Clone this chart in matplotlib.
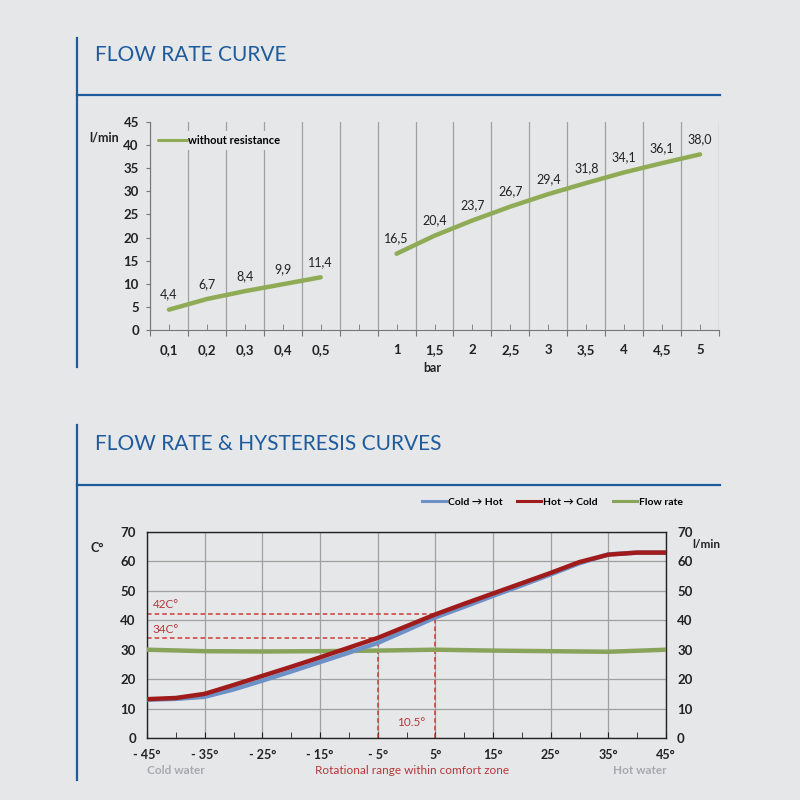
import numpy as np
import matplotlib
matplotlib.use("Agg")
import matplotlib.pyplot as plt
from matplotlib.lines import Line2D

# ---- data: flow rate curve ----
pressure_labels = ["0,1", "0,2", "0,3", "0,4", "0,5", "", "1", "1,5", "2", "2,5",
                   "3", "3,5", "4", "4,5", "5"]
flow_values = [4.4, 6.7, 8.4, 9.9, 11.4, np.nan, 16.5, 20.4, 23.7, 26.7,
               29.4, 31.8, 34.1, 36.1, 38.0]

# ---- data: hysteresis curves ----
angles = [-45, -40, -35, -30, -25, -20, -15, -10, -5, 0, 5, 10, 15, 20, 25, 30, 35, 40, 45]
cold_to_hot = [13.0, 13.3, 14.0, 16.5, 19.5, 22.6, 25.8, 29.0, 32.3, 36.6, 41.0,
               44.6, 48.3, 51.9, 55.6, 59.4, 62.4, 63.0, 63.0]
hot_to_cold = [13.2, 13.6, 15.0, 18.0, 21.1, 24.2, 27.4, 30.7, 34.0, 38.0, 42.0,
               45.6, 49.1, 52.6, 56.1, 59.8, 62.3, 63.0, 63.0]
flow_angles = [-45, -35, -25, -15, -5, 5, 15, 25, 35, 45]
flow_rate = [30.0, 29.5, 29.4, 29.5, 29.7, 30.0, 29.7, 29.5, 29.3, 30.0]
angle_ticks = [-45, -35, -25, -15, -5, 5, 15, 25, 35, 45]
angle_labels = ["- 45°", "- 35°", "- 25°", "- 15°", "- 5°", "5°", "15°", "25°", "35°", "45°"]

bg = "#e6e7e8"
blue = "#1d5b9c"
green = "#8fab55"
dark = "#222222"
grid_c = "#a0a0a0"
red_dash = "#cc3b33"

plt.rcParams['font.family'] = ['Lato', 'DejaVu Sans']

fig = plt.figure(figsize=(8, 8), dpi=100, facecolor=bg)


def fx(px):
    return px / 800


def fy(py):
    return 1 - py / 800


# section rules and titles
for (y0, y1, yh) in [(38, 367, 95), (425, 780, 485)]:
    fig.add_artist(Line2D([fx(77), fx(77)], [fy(y0), fy(y1)], color=blue, lw=1.6))
    fig.add_artist(Line2D([fx(77), fx(720)], [fy(yh), fy(yh)], color=blue, lw=1.6))
fig.text(fx(95), fy(55), "FLOW RATE CURVE", color=blue, fontsize=15, va="center")
fig.text(fx(95), fy(444), "FLOW RATE & HYSTERESIS CURVES", color=blue, fontsize=15, va="center")

# ---------------- top chart ----------------
ax1 = fig.add_axes([fx(150), fy(330), fx(569), 208 / 800])
ax1.set_facecolor(bg)
xpos = np.arange(len(pressure_labels))
ax1.plot(xpos, flow_values, color=green, lw=3.2, solid_capstyle="round",
         label="without resistance", zorder=3)
for x, v in zip(xpos, flow_values):
    if not np.isnan(v):
        ax1.annotate(f"{v:.1f}".replace(".", ","), (x, v), xytext=(0, 11),
                     textcoords="offset points", ha="center", va="center",
                     fontsize=9, color=dark)
ax1.set_xlim(-0.5, len(pressure_labels) - 0.5)
ax1.set_ylim(0, 45)
ax1.set_yticks(np.arange(0, 46, 5))
ax1.set_xticks(np.arange(-0.5, len(pressure_labels), 1))
ax1.set_xticklabels([])
ax1.set_xticks(xpos, minor=True)
ax1.set_xticklabels(pressure_labels, minor=True)
ax1.grid(axis="x", which="major", color=grid_c, lw=0.9)
ax1.tick_params(axis="x", which="major", direction="out", length=4, color="#777777")
ax1.tick_params(axis="x", which="minor", direction="in", length=4, color="#777777",
                pad=10, labelsize=9.5, labelcolor=dark)
ax1.tick_params(axis="y", direction="out", length=3, color="#777777", labelsize=9.5,
                labelcolor=dark, pad=5)
for lab in ax1.get_xticklabels(minor=True) + ax1.get_yticklabels():
    lab.set_fontweight("bold")
for s in ["top", "right"]:
    ax1.spines[s].set_visible(False)
for s in ["left", "bottom"]:
    ax1.spines[s].set_color("#777777")
leg1 = ax1.legend(loc="upper left", bbox_to_anchor=(0.0, 0.975), frameon=True,
                  facecolor=bg, edgecolor=bg, framealpha=1, fontsize=8,
                  handlelength=2.6, handletextpad=0.1, borderaxespad=0.3)
leg1.get_frame().set_linewidth(0)
for t in leg1.get_texts():
    t.set_fontweight("bold")
leg1.get_lines()[0].set_linewidth(2.2)
fig.text(fx(104), fy(138), "l/min", fontsize=9, fontweight="bold", color=dark,
         ha="center", va="center")
fig.text(fx(432), fy(368), "bar", fontsize=9, fontweight="bold", color=dark,
         ha="center", va="center")

# ---------------- bottom chart ----------------
ax2 = fig.add_axes([fx(147), fy(738), fx(519), 206 / 800])
ax2.set_facecolor(bg)
ax2.plot(flow_angles, flow_rate, color="#88a35a", lw=3.2, zorder=3)
ax2.plot(angles, cold_to_hot, color="#6d90c6", lw=3.2, zorder=4)
ax2.plot(angles, hot_to_cold, color="#a01b1b", lw=3.2, zorder=5)

# comfort zone guides
ax2.plot([-45, 5], [42, 42], ls=(0, (3, 2)), color=red_dash, lw=1.1, zorder=2)
ax2.plot([-45, -5], [34, 34], ls=(0, (3, 2)), color=red_dash, lw=1.1, zorder=2)
ax2.plot([-5, -5], [0, 34], ls=(0, (3, 2)), color=red_dash, lw=1.1, zorder=2)
ax2.plot([5, 5], [0, 42], ls=(0, (3, 2)), color=red_dash, lw=1.1, zorder=2)
ax2.text(-44, 45.2, "42C°", color="#b5373a", fontsize=8.5, va="center")
ax2.text(-44, 37, "34C°", color="#b5373a", fontsize=8.5, va="center")
ax2.text(0.8, 5.4, "10.5°", color="#b5373a", fontsize=8.5, va="center", ha="center")

ax2.set_xlim(-45, 45)
ax2.set_ylim(0, 70)
ax2.set_xticks(angle_ticks)
ax2.set_xticklabels(angle_labels)
ax2.set_xticks(np.arange(-40, 41, 10), minor=True)
ax2.set_yticks(np.arange(0, 71, 10))
ax2.grid(which="major", color=grid_c, lw=0.9)
ax2.tick_params(axis="x", which="both", direction="in", length=4, color=dark,
                labelsize=9, labelcolor=dark, pad=8)
ax2.tick_params(axis="y", length=0, labelsize=9.5, labelcolor=dark, pad=8)
for s in ax2.spines.values():
    s.set_color(dark)
    s.set_linewidth(1.0)
for lab in ax2.get_xticklabels() + ax2.get_yticklabels():
    lab.set_fontweight("bold")

ax3 = ax2.twinx()
ax3.set_ylim(0, 70)
ax3.set_yticks(np.arange(0, 71, 10))
ax3.tick_params(axis="y", length=0, labelsize=9.5, labelcolor=dark, pad=8)
for lab in ax3.get_yticklabels():
    lab.set_fontweight("bold")
for s in ax3.spines.values():
    s.set_visible(False)

fig.text(fx(97), fy(548), "C°", fontsize=9, fontweight="bold", color=dark,
         ha="center", va="center")
fig.text(fx(706), fy(545), "l/min", fontsize=8.5, fontweight="bold", color=dark,
         ha="center", va="center")

handles = [Line2D([], [], color="#6d90c6", lw=2.2),
           Line2D([], [], color="#a01b1b", lw=2.2),
           Line2D([], [], color="#88a35a", lw=2.2)]
leg2 = fig.legend(handles, ["Cold → Hot", "Hot → Cold", "Flow rate"],
                  loc="center right", bbox_to_anchor=(fx(692), fy(502)), ncol=3,
                  frameon=False, fontsize=7.5, handlelength=2.3, handletextpad=0.2,
                  columnspacing=1.4)
for t in leg2.get_texts():
    t.set_fontweight("bold")

fig.text(fx(147), fy(771), "Cold water", fontsize=8.5, fontweight="bold",
         color="#a7a9ac", ha="left", va="center")
fig.text(fx(412), fy(771), "Rotational range within comfort zone", fontsize=8.5,
         color="#b5373a", ha="center", va="center")
fig.text(fx(667), fy(771), "Hot water", fontsize=8.5, fontweight="bold",
         color="#a7a9ac", ha="right", va="center")

fig.savefig("out.png", dpi=100, facecolor=bg)
